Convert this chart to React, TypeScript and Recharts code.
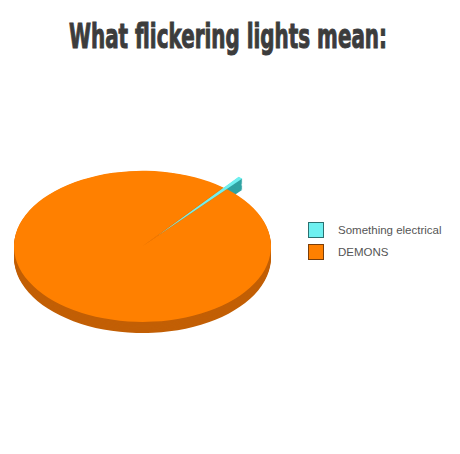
import React from 'react'
import { PieChart, Pie, Cell } from 'recharts'

// what flickering lights mean (share of cases)
const categories = ['Something electrical', 'DEMONS']
const values = [0.6, 99.4]

const topColors = ['#6ef0f0', '#ff8000']
const sideColors = ['#2fa3a3', '#c25f05']
const legendBorders = ['#2b7070', '#7a3e0a']

const data = categories.map((name, i) => ({ name, value: values[i] }))

// the pie is drawn as a circle and squashed vertically to look 3d
const SQUASH = 0.588
const R = 128.5
const CX = 142.5
const CY = 140
const DEPTH = 19
const MID_ANGLE = 50
const EXPLODE = 24
const START = MID_ANGLE - (values[0] / (values[0] + values[1])) * 180
const END = START + 360
const EX = CX + EXPLODE * Math.cos((MID_ANGLE * Math.PI) / 180)
const EY = CY - EXPLODE * Math.sin((MID_ANGLE * Math.PI) / 180)
const layers = Array.from({ length: 10 }, (_, i) => DEPTH - i * 2)

const common = {
  data,
  dataKey: 'value',
  outerRadius: R,
  startAngle: START,
  endAngle: END,
  isAnimationActive: false,
  stroke: 'none'
}

const App: React.FC = () => {
  return (
    <div
      style={{
        position: 'absolute',
        left: 0,
        top: 0,
        width: 460,
        height: 454,
        background: '#fff',
        overflow: 'hidden'
      }}
    >
      <svg width={460} height={80} style={{ position: 'absolute', left: 0, top: 0 }}>
        <text
          x={228}
          y={48}
          textAnchor="middle"
          textLength={318}
          lengthAdjust="spacingAndGlyphs"
          fontFamily="'Liberation Sans Narrow', 'DejaVu Sans Condensed', 'Liberation Sans', sans-serif"
          fontWeight={700}
          fontSize={33}
          fill="#3c3c3c"
          stroke="#3c3c3c"
          strokeWidth={1}
        >
          What flickering lights mean:
        </text>
      </svg>

      <div
        style={{
          position: 'absolute',
          left: 0,
          top: 246.5 - CY * SQUASH,
          width: 300,
          height: 320,
          transform: `scaleY(${SQUASH})`,
          transformOrigin: 'top left'
        }}
      >
        <PieChart width={300} height={320} margin={{ top: 0, right: 0, bottom: 0, left: 0 }}>
          {layers.map((d) => (
            <Pie key={'os' + d} {...common} cx={CX} cy={CY + d}>
              {data.map((_, i) => (
                <Cell key={i} fill={sideColors[1]} stroke="none" />
              ))}
            </Pie>
          ))}
          {layers.map((d) => (
            <Pie key={'cs' + d} {...common} cx={EX} cy={EY + d}>
              {data.map((_, i) => (
                <Cell key={i} fill={i === 0 ? sideColors[0] : 'none'} stroke="none" />
              ))}
            </Pie>
          ))}
          <Pie {...common} cx={CX} cy={CY}>
            {data.map((_, i) => (
              <Cell key={i} fill={topColors[1]} stroke="none" />
            ))}
          </Pie>
          <Pie {...common} cx={EX} cy={EY}>
            {data.map((_, i) => (
              <Cell key={i} fill={i === 0 ? topColors[0] : 'none'} stroke="none" />
            ))}
          </Pie>
        </PieChart>
      </div>

      {categories.map((name, i) => (
        <div
          key={name}
          style={{
            position: 'absolute',
            left: 308,
            top: 222 + i * 22,
            height: 16,
            display: 'flex',
            alignItems: 'center'
          }}
        >
          <div
            style={{
              width: 14,
              height: 14,
              background: topColors[i],
              border: `1px solid ${legendBorders[i]}`
            }}
          />
          <span
            style={{
              marginLeft: 14,
              fontFamily: "'Liberation Sans', Arial, sans-serif",
              fontSize: 11.5,
              color: '#555'
            }}
          >
            {name}
          </span>
        </div>
      ))}
    </div>
  )
}

export default App
